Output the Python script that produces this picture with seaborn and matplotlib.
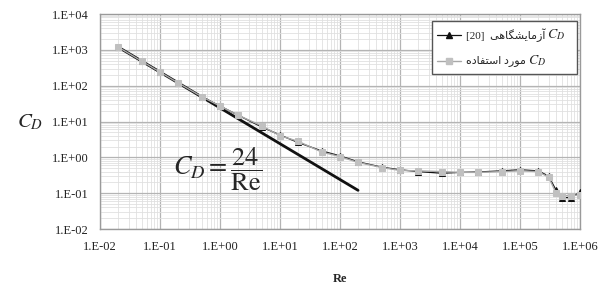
import numpy as np
import pandas as pd
import matplotlib
matplotlib.use("Agg")
import matplotlib.pyplot as plt
import seaborn as sns
from matplotlib.lines import Line2D
from matplotlib.patches import Rectangle
from matplotlib.ticker import FuncFormatter, LogLocator, NullFormatter

# ---- data ----
re_vals = [0.02, 0.05, 0.1, 0.2, 0.5, 1, 2, 5, 10, 20, 50, 100, 200, 500,
           1000, 2000, 5000, 1e4, 2e4, 5e4, 1e5, 2e5, 3e5, 4e5, 5e5, 7e5, 1e6]
cd_exp = [1200, 480, 240, 120, 49, 27, 15, 7.0, 4.2, 2.6, 1.5, 1.1, 0.75, 0.53,
          0.45, 0.40, 0.36, 0.38, 0.39, 0.42, 0.45, 0.42, 0.30, 0.12, 0.075, 0.075, 0.105]
cd_used = [1200, 480, 240, 120, 49, 27, 15, 7.5, 4.0, 2.8, 1.4, 1.05, 0.72, 0.52,
           0.43, 0.42, 0.40, 0.38, 0.38, 0.40, 0.42, 0.40, 0.28, 0.10, 0.085, 0.085, 0.09]
stokes_re = [0.02, 200]
stokes_cd = [1200, 0.12]

# Persian labels (visual order, presentation forms for display)
fa_exp = "\uFEF0\uFEEB\uFE8E\uFB95\uFEB8\uFEF3\uFE8E\uFEE3\uFEAF\uFE81"   # آزمایشگاهی
fa_used = "\uFEE9\uFEA9\uFE8E\uFED4\uFE98\uFEB3\uFE8D \uFEA9\uFEAD\uFEEE\uFEE3"  # مورد استفاده
legend_texts = ["[20]  " + fa_exp, fa_used]

sns.set_theme(style="white")
plt.rcParams['font.family'] = ['Liberation Serif', 'DejaVu Sans']

W, H = 602, 285
fig = plt.figure(figsize=(W / 100, H / 100), dpi=100)
L, T, R, B = 100, 14, 580, 229
ax = fig.add_axes([L / W, 1 - B / H, (R - L) / W, (B - T) / H])

df_exp = pd.DataFrame({"Re": re_vals, "CD": cd_exp})
df_used = pd.DataFrame({"Re": re_vals, "CD": cd_used})
df_st = pd.DataFrame({"Re": stokes_re, "CD": stokes_cd})

exp_style = dict(color="#111111", lw=0.9, marker="^", markersize=4.5,
                 markeredgecolor="#111111")
used_style = dict(color="#a8a8a8", lw=1.0, marker="s", markersize=4,
                  markerfacecolor="#c0c0c0", markeredgecolor="#c0c0c0")

sns.lineplot(data=df_st, x="Re", y="CD", ax=ax, color="#111111", lw=2.0, zorder=3)
sns.lineplot(data=df_exp, x="Re", y="CD", ax=ax, zorder=4, legend=False, **exp_style)
sns.lineplot(data=df_used, x="Re", y="CD", ax=ax, zorder=5, legend=False, **used_style)

ax.set_xscale("log")
ax.set_yscale("log")
ax.set_xlim(1e-2, 1e6)
ax.set_ylim(1e-2, 1e4)

fmt = FuncFormatter(lambda v, p: "1.E%+03d" % int(round(np.log10(v))))
ax.xaxis.set_major_locator(LogLocator(base=10, numticks=20))
ax.yaxis.set_major_locator(LogLocator(base=10, numticks=20))
ax.xaxis.set_minor_locator(LogLocator(base=10, subs=np.arange(2, 10), numticks=100))
ax.yaxis.set_minor_locator(LogLocator(base=10, subs=np.arange(2, 10), numticks=100))
ax.xaxis.set_major_formatter(fmt)
ax.yaxis.set_major_formatter(fmt)
ax.xaxis.set_minor_formatter(NullFormatter())
ax.yaxis.set_minor_formatter(NullFormatter())
ax.tick_params(axis="both", which="both", length=0, labelsize=9, colors="#222222")
ax.tick_params(axis="x", pad=9)
ax.tick_params(axis="y", pad=8)

ax.grid(True, which="major", color="#b4b4b4", lw=0.9)
ax.grid(True, which="minor", color="#e0e0e0", lw=0.6)
for s in ax.spines.values():
    s.set_color("#9a9a9a")
    s.set_linewidth(1.0)

ax.set_xlabel("Re", fontsize=9, fontweight="bold", labelpad=14)
ax.set_ylabel("")
fig.text(30 / W, 1 - 122 / H, r"$C_D$", fontsize=15, ha="center", va="center",
         math_fontfamily="stix")
ax.text(0.245, 0.275, r"$C_D = \dfrac{24}{\mathrm{Re}}$", fontsize=19,
        ha="center", va="center", math_fontfamily="stix", zorder=6,
        transform=ax.transAxes)

# ---- hand-built legend (box in pixel layout converted to axes fraction) ----
def axp(px, py):
    return ((px - L) / (R - L), (B - py) / (B - T))

bx0, by0 = axp(432, 74)
bx1, by1 = axp(577, 21)
ax.add_patch(Rectangle((bx0, by0), bx1 - bx0, by1 - by0, transform=ax.transAxes,
                       facecolor="white", edgecolor="#555555", lw=1.0, zorder=20,
                       clip_on=False))
rows_py = [35, 61]
styles = [exp_style, used_style]
fig.canvas.draw()
renderer = fig.canvas.get_renderer()
for py, st, txt in zip(rows_py, styles, legend_texts):
    hx0, hy = axp(437, py)
    hx1, _ = axp(461, py)
    hm, _ = axp(449, py)
    ax.add_line(Line2D([hx0, hx1], [hy, hy], transform=ax.transAxes, zorder=21,
                       color=st["color"], lw=st["lw"], clip_on=False))
    ax.add_line(Line2D([hm], [hy], transform=ax.transAxes, zorder=22, ls="none",
                       marker=st["marker"], markersize=st["markersize"],
                       markerfacecolor=st.get("markerfacecolor", st["color"]),
                       markeredgecolor=st["markeredgecolor"], clip_on=False))
    tx, _ = axp(466, py)
    t = ax.text(tx, hy, txt, transform=ax.transAxes, fontsize=8, ha="left",
                va="center", zorder=23,
                family=['Liberation Serif', 'DejaVu Sans'])
    bb = t.get_window_extent(renderer)
    cx = (bb.x1 + 2 - fig.bbox.x0)
    ax.text((cx - L) / (R - L), hy, r"$C_D$", transform=ax.transAxes,
            fontsize=10, ha="left", va="center", math_fontfamily="stix",
            zorder=23)

fig.savefig("out.png", dpi=100)
